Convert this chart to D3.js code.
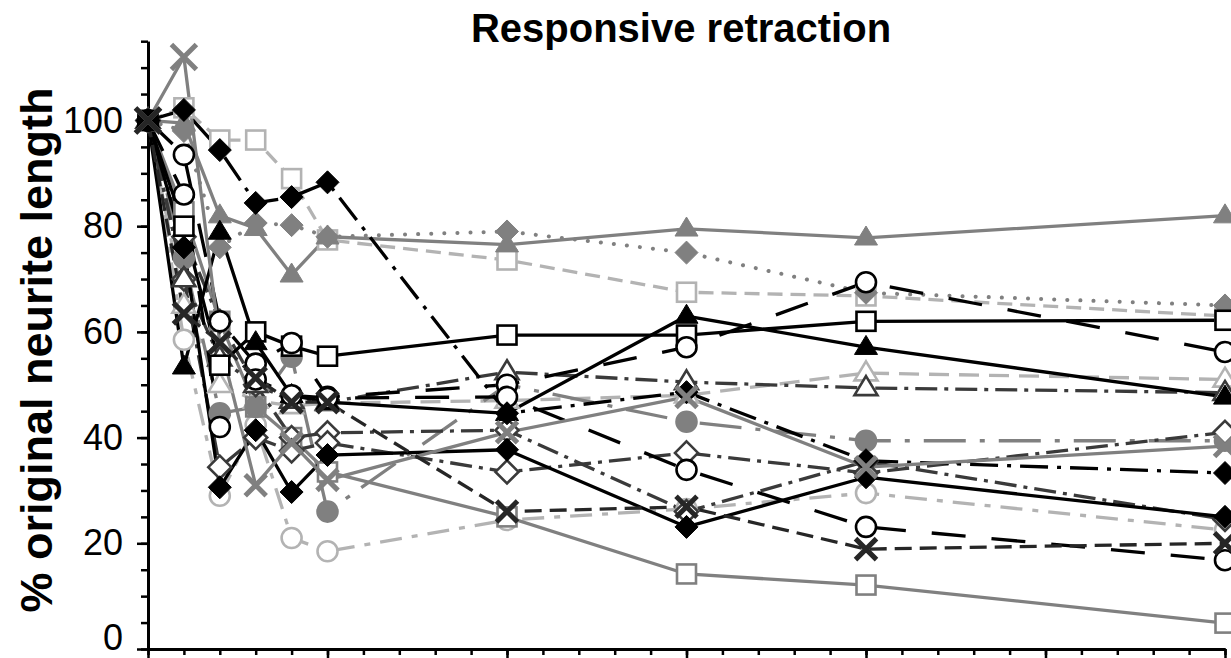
<!DOCTYPE html>
<html><head><meta charset="utf-8">
<script src="https://cdn.jsdelivr.net/npm/d3@7"></script>
<style>body{margin:0;background:#fff} svg{display:block}</style>
</head><body><svg id="c" width="1231" height="658"></svg>
<script>
// ---- data ----
const times = [0, 1, 2, 3, 4, 5, 10, 15, 20, 30];
const yTicks = [0, 20, 40, 60, 80, 100];
const title = "Responsive retraction";
const yLabel = "% original neurite length";

const grayTriSolid      = [100, 99.5, 82, 79.6, 70.8, 78, 76.5, 79.5, 77.8, 82];
const grayDiamondDotted = [100, 98, 76, 80.6, 80.2, 78, 79, 75, 67.4, 65];
const lightSquareDashed = [100, 102.4, 96.3, 96.3, 89, 77.4, 73.6, 67.5, 66.8, 63];
const blackSquareSolid  = [100, 80, 53.7, 60, 57.3, 55.4, 59.4, 59.4, 62, 62.2];
const blackDiamondDashDot = [100, 102, 94.4, 84.4, 85.5, 88.3, 44.6, 48.6, 35.6, 33.3];
const blackTriSolid     = [100, 53.4, 78.9, 58, 48, 46.7, 44.6, 63, 57.1, 47.7];
const blackCircleLongA  = [100, 93.5, 62, 54, 57.9, 47.7, 50, 57.1, 69.4, 56.2];
const blackCircleLongB  = [100, 86, 42, 51, 48, 47.5, 47.7, 33.9, 23.1, 16.8];
const darkTriDashDot    = [100, 70, 55, 50, 47, 46.7, 52.4, 50.5, 49.4, 48.5];
const lightTriDashed    = [100, 65, 50, 47, 46, 46.5, 47, 48, 52.2, 51];
const grayCircleDashDot = [100, 74, 44.6, 45.8, 55.3, 26, 50, 43, 39.4, 39.4];
const darkDiamondDashDotA = [100, 78, 62, 50, 40, 40.9, 41.4, 26, 35.5, 24.5];
const darkDiamondDashDotB = [100, 70, 34.4, 40, 37.5, 39, 33.5, 37.1, 33.3, 41];
const blackDiamondSolid = [100, 76, 30.6, 41.4, 29.7, 36.7, 37.7, 23.1, 32.5, 25];
const lightCircleDashDot = [100, 58.5, 29, 42.4, 21, 18.5, 24.4, 26.5, 29.5, 22.5];
const graySquareSolid   = [100, 82.7, 62, 45.8, 40, 33.5, 25, 14.2, 12.1, 4.9];
const grayXSolid        = [100, 112, 58, 31, 39, 32, 41, 47.7, 34.4, 38.4];
const darkXDashed       = [100, 63.5, 58, 51.3, 46.7, 46.7, 26, 26.9, 18.9, 20];

// ---- styles ----
const K = "#000", DK = "#3a3a3a", G = "#808080", LG = "#b3b3b3";
const series = [
  {v: lightSquareDashed,  c: LG, dash: "15,8",          m: "square",  f: false},
  {v: grayDiamondDotted,  c: G,  dash: "0.1,13",        m: "diamond", f: true, cap: "round"},
  {v: grayTriSolid,       c: G,  dash: null,            m: "tri",     f: true},
  {v: lightTriDashed,     c: LG, dash: "20,10",         m: "tri",     f: false},
  {v: lightCircleDashDot, c: LG, dash: "22,10,6,10",    m: "circle",  f: false},
  {v: graySquareSolid,    c: G,  dash: null,            m: "square",  f: false},
  {v: grayCircleDashDot,  c: G,  dash: "42,14,5,14",    m: "circle",  f: true},
  {v: darkDiamondDashDotA,c: DK, dash: "22,7,4,7",      m: "diamond", f: false},
  {v: darkDiamondDashDotB,c: DK, dash: "22,7,4,7",      m: "diamond", f: false},
  {v: darkTriDashDot,     c: DK, dash: "22,7,4,7",      m: "tri",     f: false},
  {v: blackSquareSolid,   c: K,  dash: null,            m: "square",  f: false},
  {v: blackDiamondSolid,  c: K,  dash: null,            m: "diamond", f: true},
  {v: blackTriSolid,      c: K,  dash: null,            m: "tri",     f: true},
  {v: blackCircleLongA,   c: K,  dash: "34,26",         m: "circle",  f: false},
  {v: blackCircleLongB,   c: K,  dash: "34,26",         m: "circle",  f: false},
  {v: blackDiamondDashDot,c: K,  dash: "28,9,4,9",      m: "diamond", f: true},
  {v: grayXSolid,         c: G,  dash: null,            m: "x",       f: false},
  {v: darkXDashed,        c: "#262626", dash: "17,8",   m: "x",       f: false}
];

const svg = d3.select("#c");
const x = d3.scaleLinear().domain([0, 30]).range([148, 1225]);
const y = d3.scaleLinear().domain([0, 115]).range([649, 41.2]);
const FONT = "'Liberation Sans', Arial, sans-serif";

// title
svg.append("text").attr("x", 681).attr("y", 42).attr("text-anchor", "middle")
  .attr("font-family", FONT).attr("font-weight", "bold").attr("font-size", 40).text(title);
// y label
svg.append("text").attr("transform", "translate(52,350) rotate(-90)").attr("text-anchor", "middle")
  .attr("font-family", FONT).attr("font-weight", "bold").attr("font-size", 45).text(yLabel);

// axes
svg.append("g").attr("transform", "translate(148,0)")
  .call(d3.axisLeft(y).tickValues(d3.range(0, 116, 5)).tickSize(7).tickSizeOuter(0).tickFormat(""));
const yMajor = svg.append("g").attr("transform", "translate(148,0)")
  .call(d3.axisLeft(y).tickValues(yTicks).tickSize(11).tickSizeOuter(0).tickPadding(14));
svg.append("g").attr("transform", "translate(0,649)")
  .call(d3.axisBottom(x).tickValues(d3.range(0, 31, 1)).tickSize(6).tickSizeOuter(0).tickFormat(""));
svg.append("g").attr("transform", "translate(0,649)")
  .call(d3.axisBottom(x).tickValues(d3.range(0, 31, 5)).tickSize(9).tickSizeOuter(0).tickFormat(""));
svg.selectAll(".domain").attr("stroke", "#000").attr("stroke-width", 3);
svg.selectAll(".tick line").attr("stroke", "#000").attr("stroke-width", 2.5);
yMajor.selectAll(".tick text").attr("font-family", FONT).attr("font-size", 36).attr("fill", "#000")
  .attr("dy", d => d === 0 ? "0.02em" : "0.32em");

// lines
const line = d3.line().x((d, i) => x(times[i])).y(d => y(d));
const plot = svg.append("g");
series.forEach(s => {
  plot.append("path").datum(s.v).attr("d", line).attr("fill", "none")
    .attr("stroke", s.c).attr("stroke-width", s.cap === "round" ? 4 : 3.3)
    .attr("stroke-dasharray", s.dash).attr("stroke-linecap", s.cap || "butt")
    .attr("stroke-linejoin", "round");
});

// markers
function marker(g, type, cx, cy, color, filled, big) {
  const fill = filled ? color : "#fff";
  if (type === "square") {
    g.append("rect").attr("x", cx - 9.5).attr("y", cy - 9.5).attr("width", 19).attr("height", 19)
      .attr("fill", fill).attr("stroke", color).attr("stroke-width", 2.6);
  } else if (type === "circle") {
    g.append("circle").attr("cx", cx).attr("cy", cy).attr("r", 10)
      .attr("fill", fill).attr("stroke", color).attr("stroke-width", 2.6);
  } else if (type === "diamond") {
    const r = 11.5;
    g.append("path").attr("d", `M${cx},${cy - r}L${cx + r},${cy}L${cx},${cy + r}L${cx - r},${cy}Z`)
      .attr("fill", fill).attr("stroke", color).attr("stroke-width", filled ? 1 : 2.6);
  } else if (type === "tri") {
    const h = 19, w = 11.5;
    g.append("path").attr("d", `M${cx},${cy - h * 0.62}L${cx + w},${cy + h * 0.38}L${cx - w},${cy + h * 0.38}Z`)
      .attr("fill", fill).attr("stroke", color).attr("stroke-width", filled ? 1 : 2.6)
      .attr("stroke-linejoin", "miter");
  } else if (type === "x") {
    const r = big ? 12.5 : 10.5;
    g.append("path").attr("d", `M${cx - r},${cy - r}L${cx + r},${cy + r}M${cx - r},${cy + r}L${cx + r},${cy - r}`)
      .attr("stroke", color).attr("stroke-width", 5).attr("fill", "none");
  }
}
const mk = svg.append("g");
series.forEach(s => {
  s.v.forEach((d, i) => {
    const big = s.m === "x" && (i === 0 || d > 105);
    marker(mk, s.m, x(times[i]), y(d), s.c, s.f, big);
  });
});
</script></body></html>
